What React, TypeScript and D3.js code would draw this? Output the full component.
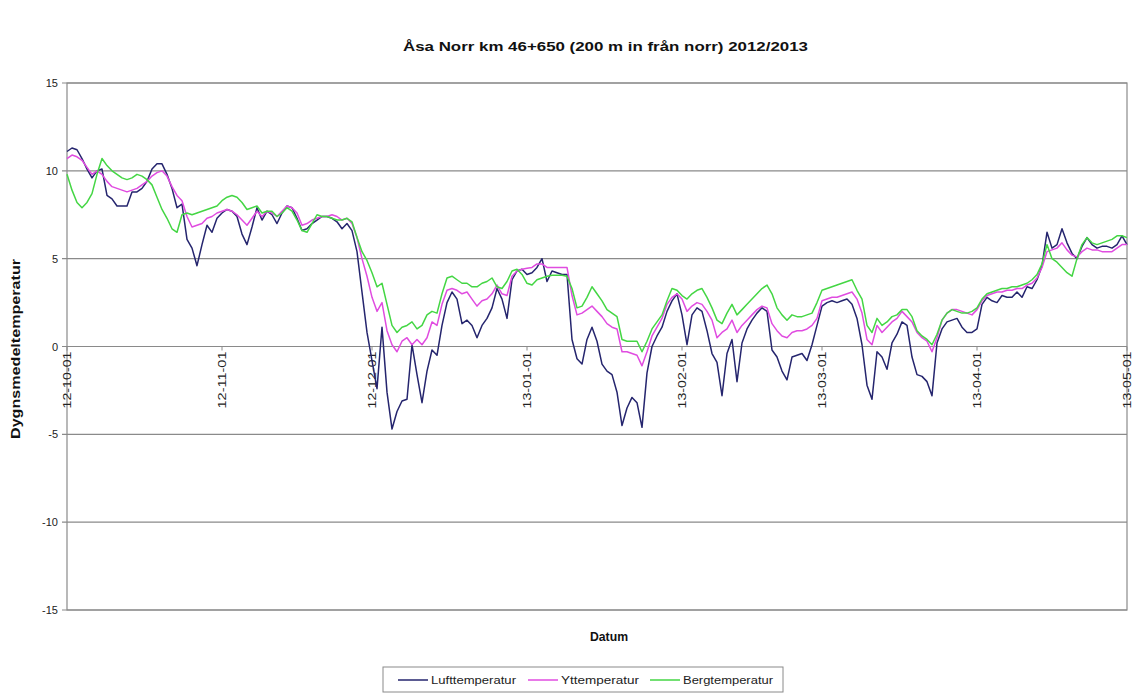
import React from "react";
import * as d3 from "d3";

const START = "2012-10-01";
const END = "2013-05-01";

const tickLabels = ["12-10-01", "12-11-01", "12-12-01", "13-01-01", "13-02-01", "13-03-01", "13-04-01", "13-05-01"];
const tickDates = ["2012-10-01", "2012-11-01", "2012-12-01", "2013-01-01", "2013-02-01", "2013-03-01", "2013-04-01", "2013-05-01"];
const yTicks = [15, 10, 5, 0, -5, -10, -15];

const luft = [
  11.1, 11.3, 11.2, 10.7, 10.1, 9.6, 10.0, 10.1, 8.6, 8.4,
  8.0, 8.0, 8.0, 8.8, 8.8, 9.0, 9.4, 10.1, 10.4, 10.4,
  9.8, 9.0, 7.9, 8.1, 6.1, 5.6, 4.6, 5.8, 6.9, 6.5,
  7.3, 7.6, 7.8, 7.7, 7.4, 6.4, 5.8, 6.8, 7.9, 7.2,
  7.7, 7.5, 7.0, 7.6, 8.0, 7.9, 7.3, 6.6, 6.7, 7.0,
  7.2, 7.4, 7.4, 7.3, 7.1, 6.7, 7.0, 6.6, 5.4, 3.1,
  0.8, -0.8, -2.4, 1.1, -2.6, -4.7, -3.7, -3.1, -3.0, 0.1,
  -1.6, -3.2, -1.4, -0.2, -0.5, 1.2, 2.5, 3.1, 2.7, 1.3,
  1.5, 1.2, 0.5, 1.2, 1.6, 2.2, 3.3, 2.7, 1.6, 3.8,
  4.3, 4.4, 4.1, 4.2, 4.5, 5.0, 3.7, 4.3, 4.2, 4.1,
  4.1, 0.4, -0.7, -1.0, 0.4, 1.1, 0.3, -1.0, -1.4, -1.6,
  -2.6, -4.5, -3.5, -2.9, -3.2, -4.6, -1.5, 0.0, 0.6, 1.1,
  2.0, 2.6, 3.0, 1.8, 0.1, 1.8, 2.2, 2.0, 0.9, -0.4,
  -0.9, -2.8, -0.4, 0.4, -2.0, 0.2, 1.0, 1.5, 1.9, 2.2,
  2.0, -0.2, -0.6, -1.4, -1.9, -0.6, -0.5, -0.4, -0.8, 0.1,
  1.2, 2.3, 2.5, 2.6, 2.5, 2.6, 2.7, 2.4, 1.6, 0.1,
  -2.2, -3.0, -0.3, -0.6, -1.3, 0.2, 0.7, 1.4, 1.2, -0.6,
  -1.6, -1.7, -2.0, -2.8, 0.2, 1.0, 1.4, 1.5, 1.6, 1.1,
  0.8, 0.8, 1.0, 2.4, 2.8, 2.6, 2.5, 2.9, 2.8, 2.8,
  3.1, 2.8, 3.4, 3.3, 3.8, 4.6, 6.5, 5.6, 5.8, 6.7,
  5.9, 5.3, 5.0, 5.7, 6.2, 5.8, 5.6, 5.7, 5.7, 5.6,
  5.8, 6.3, 5.8,
];

const yt = [
  10.7, 10.9, 10.8, 10.6, 10.2, 9.8, 10.0, 9.8, 9.4, 9.1,
  9.0, 8.9, 8.8, 8.9, 9.0, 9.2, 9.4, 9.7, 9.9, 10.0,
  9.7, 9.1, 8.6, 8.3, 7.4, 6.8, 6.9, 7.0, 7.3, 7.4,
  7.6, 7.7, 7.8, 7.7, 7.5, 7.2, 6.9, 7.3, 7.7, 7.4,
  7.7, 7.6, 7.4, 7.7, 8.0, 7.9, 7.6, 6.9, 7.0, 7.2,
  7.3, 7.4, 7.4, 7.5, 7.4, 7.2, 7.3, 7.0, 6.2, 5.0,
  4.0, 2.8, 2.0, 2.5, 0.9, 0.1, -0.3, 0.3, 0.5, 0.1,
  0.4, 0.1, 0.5, 1.4, 1.2, 2.4, 3.2, 3.3, 3.2, 3.0,
  3.1, 2.7, 2.3, 2.6, 2.7, 3.0, 3.5, 3.0, 2.9, 4.0,
  4.3, 4.4, 4.45, 4.5, 4.7, 4.7, 4.5, 4.5, 4.5, 4.5,
  4.5, 2.9, 1.8, 1.9, 2.1, 2.3, 2.0, 1.7, 1.3, 1.1,
  1.0, -0.3, -0.3, -0.4, -0.5, -1.1, -0.3, 0.6, 1.1, 1.6,
  2.4, 2.8, 3.0, 2.7, 2.0, 2.3, 2.5, 2.4, 2.0, 1.5,
  0.5, 0.8, 1.0, 1.5, 0.8, 1.2, 1.5, 1.8, 2.1, 2.3,
  2.2, 1.3, 0.9, 0.6, 0.5, 0.8, 0.9, 0.9, 1.0, 1.2,
  1.6, 2.6, 2.7, 2.8, 2.8, 2.9, 3.0, 3.1, 2.7, 1.9,
  0.4, 0.1, 1.2, 0.8, 1.1, 1.4, 1.6, 2.0, 1.7, 1.4,
  0.8, 0.5, 0.3, -0.3, 0.5, 1.5, 1.9, 2.1, 2.1, 2.0,
  1.9, 1.8, 2.1, 2.6, 2.9, 3.0, 3.1, 3.1, 3.2, 3.2,
  3.3, 3.3, 3.5, 3.6, 3.9, 4.5, 5.4, 5.5, 5.6, 5.9,
  5.5, 5.2, 5.1, 5.4, 5.6, 5.5, 5.5, 5.4, 5.4, 5.4,
  5.6, 5.8, 5.8,
];

const berg = [
  9.8, 8.9, 8.2, 7.9, 8.2, 8.7, 9.8, 10.7, 10.3, 10.0,
  9.8, 9.6, 9.5, 9.6, 9.8, 9.7, 9.5, 9.2, 8.5, 7.8,
  7.3, 6.7, 6.5, 7.5, 7.6, 7.5, 7.6, 7.7, 7.8, 7.9,
  8.0, 8.3, 8.5, 8.6, 8.5, 8.2, 7.8, 7.9, 8.0, 7.6,
  7.7, 7.7, 7.4, 7.6, 7.9, 7.7, 7.2, 6.6, 6.5, 7.0,
  7.5, 7.4, 7.4, 7.3, 7.2, 7.2, 7.3, 7.1, 6.2, 5.4,
  4.9, 4.2, 3.4, 3.6, 2.4, 1.2, 0.8, 1.1, 1.2, 1.4,
  1.0, 1.2, 1.8, 2.0, 1.9, 3.0, 3.9, 4.0, 3.8, 3.6,
  3.6, 3.4, 3.4, 3.6, 3.7, 3.9, 3.4, 3.3, 3.7, 4.3,
  4.4, 4.1, 3.6, 3.5, 3.8, 3.9, 4.0, 4.05, 4.05, 4.05,
  4.0, 3.3, 2.2, 2.3, 2.8, 3.4, 3.0, 2.6, 2.1, 1.9,
  1.7, 0.4, 0.3, 0.3, 0.3, -0.3, 0.3, 1.0, 1.4, 1.8,
  2.6, 3.3, 3.2, 2.9, 2.7, 3.0, 3.2, 3.3, 2.8, 2.2,
  1.5, 1.3, 1.9, 2.4, 1.8, 2.1, 2.4, 2.7, 3.0, 3.3,
  3.5, 3.0, 2.2, 1.8, 1.5, 1.8, 1.7, 1.7, 1.8, 1.9,
  2.5, 3.2, 3.3, 3.4, 3.5, 3.6, 3.7, 3.8, 3.2, 2.7,
  1.2, 0.8, 1.6, 1.2, 1.4, 1.7, 1.8, 2.1, 2.1, 1.7,
  0.9, 0.6, 0.4, 0.1, 0.7, 1.5, 1.9, 2.1, 2.0, 1.9,
  1.9, 2.0, 2.2, 2.7, 3.0, 3.1, 3.2, 3.3, 3.3, 3.4,
  3.4, 3.5, 3.6, 3.8, 4.1, 4.7, 5.8, 5.0, 4.8, 4.5,
  4.2, 4.0, 5.0, 5.8, 6.2, 5.9, 5.8, 5.9, 6.0, 6.1,
  6.3, 6.3, 6.2,
];

const seriesNames = ["Lufttemperatur", "Yttemperatur", "Bergtemperatur"];
const seriesColors = ["#25256e", "#e04ce0", "#44d644"];
const seriesValues = [luft, yt, berg];

const W = 1132;
const H = 693;
const FONT = "'Liberation Sans', Arial, sans-serif";

export default function App() {
  const start = new Date(START + "T00:00:00Z");
  const x = d3.scaleUtc().domain([start, new Date(END + "T00:00:00Z")]).range([67, 1127]);
  const y = d3.scaleLinear().domain([-15, 15]).range([610, 83]);
  const dateOf = (i: number) => d3.utcDay.offset(start, i);

  const line = d3
    .line<number>()
    .x((_, i) => x(dateOf(i)))
    .y((v) => y(v));

  const y0 = y(0);
  const legendX = [398, 528, 650];
  const legendTextLen = [85, 78, 90];

  return (
    <div style={{ position: "fixed", left: 0, top: 0, width: W, height: H, background: "#fff" }}>
      <svg width={W} height={H} style={{ display: "block" }} fontFamily={FONT}>
        <rect x={0} y={0} width={W} height={H} fill="#fff" />
        <text
          x={403}
          y={51}
          fontSize={13}
          fontWeight="bold"
          fill="#111"
          textLength={405}
          lengthAdjust="spacingAndGlyphs"
        >
          Åsa Norr km 46+650 (200 m in från norr) 2012/2013
        </text>

        {yTicks.map((t) => (
          <g key={t}>
            <line x1={62} x2={1127} y1={y(t)} y2={y(t)} stroke="#8a8a8a" strokeWidth={1.2} />
            <text x={58} y={y(t) + 4} textAnchor="end" fontSize={11} fill="#222">
              {t}
            </text>
          </g>
        ))}
        <rect x={67} y={83} width={1060} height={527} fill="none" stroke="#8a8a8a" strokeWidth={1.2} />

        {tickDates.map((d, i) => {
          const tx = x(new Date(d + "T00:00:00Z"));
          return (
            <g key={d}>
              <line x1={tx} x2={tx} y1={y0} y2={y0 + 4} stroke="#8a8a8a" strokeWidth={1} />
              <text
                transform={`translate(${tx + 4},${y0 + 5}) rotate(-90)`}
                textAnchor="end"
                fontSize={11}
                fill="#222"
                textLength={57}
                lengthAdjust="spacingAndGlyphs"
              >
                {tickLabels[i]}
              </text>
            </g>
          );
        })}

        {seriesValues.map((vals, k) => (
          <path
            key={seriesNames[k]}
            d={line(vals) || ""}
            fill="none"
            stroke={seriesColors[k]}
            strokeWidth={1.5}
            strokeLinejoin="round"
          />
        ))}

        <text
          transform={`translate(20,349) rotate(-90)`}
          textAnchor="middle"
          fontSize={12}
          fontWeight="bold"
          fill="#111"
          textLength={180}
          lengthAdjust="spacingAndGlyphs"
        >
          Dygnsmedeltemperatur
        </text>
        <text
          x={590}
          y={641}
          fontSize={12}
          fontWeight="bold"
          fill="#111"
          textLength={38}
          lengthAdjust="spacingAndGlyphs"
        >
          Datum
        </text>

        <rect x={383} y={667} width={400} height={25} fill="#fff" stroke="#8a8a8a" strokeWidth={1} />
        {seriesNames.map((n, k) => {
          const lx = legendX[k];
          return (
            <g key={n}>
              <line x1={lx} x2={lx + 30} y1={680} y2={680} stroke={seriesColors[k]} strokeWidth={1.5} />
              <text
                x={lx + 33}
                y={684}
                fontSize={10}
                fill="#222"
                textLength={legendTextLen[k]}
                lengthAdjust="spacingAndGlyphs"
              >
                {n}
              </text>
            </g>
          );
        })}
      </svg>
    </div>
  );
}
